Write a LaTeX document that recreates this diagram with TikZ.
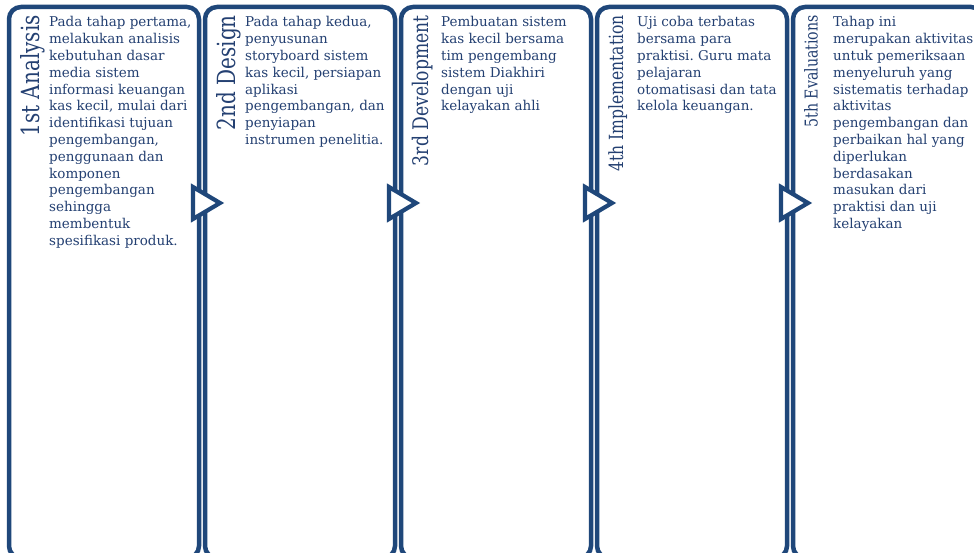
\documentclass[tikz,border=0pt]{standalone}
\usepackage{fontspec}
\setmainfont{DejaVu Serif}
\newfontfamily\titlefont[FakeStretch=0.8]{DejaVu Serif}
\usetikzlibrary{positioning, calc}
\definecolor{phaseblue}{RGB}{31,71,122}
\definecolor{textblue}{RGB}{36,64,114}
\frenchspacing

\begin{document}
\begin{tikzpicture}[x=1pt, y=-1pt,
  phasebox/.style={draw=phaseblue, line width=4.5pt, fill=white, rounded corners=12pt,
    minimum width=190pt, minimum height=551pt, anchor=north west, inner sep=0pt, outer sep=0pt},
  phasetitle/.style={rotate=90, anchor=north east, inner sep=0pt, text=textblue},
  phasetext/.style={anchor=north west, inner sep=0pt, align=left, text=textblue,
    font=\fontsize{13.5}{16.8}\selectfont},
  nextarrow/.style={draw=phaseblue, line width=4.2pt, fill=white, line join=miter}]
  \useasboundingbox (0,0) rectangle (974,553);
  \clip (0,0) rectangle (974,553);
  % 5 phase boxes
  \foreach \i/\x in {1/9, 2/205, 3/401, 4/597, 5/793}
    \node[phasebox] (box\i) at (\x,7) {};
  % arrows from one phase to the next
  \foreach \i in {1,...,4}
    \draw[nextarrow] ([shift={(-6,180)}]box\i.north east) -- ([shift={(-6,212)}]box\i.north east)
      -- ([shift={(21,196)}]box\i.north east) -- cycle;
  % rotated phase titles
  \foreach \i/\s/\t in {1/25/1st Analysis, 2/25/2nd Design, 3/21.5/3rd Development,
      4/19.5/4th Implementation, 5/17.7/5th Evaluations}
    \node[phasetitle, font=\titlefont\fontsize{\s}{\s}\selectfont] (title\i)
      at ([shift={(11,8)}]box\i.north west) {\t};
  % phase descriptions
  \node[phasetext] (text1) at ([shift={(40,9.5)}]box1.north west)
    {Pada tahap pertama,\\ melakukan analisis\\ kebutuhan dasar\\ media sistem\\
     informasi keuangan\\ kas kecil, mulai dari\\ identifikasi tujuan\\ pengembangan,\\
     penggunaan dan\\ komponen\\ pengembangan\\ sehingga\\ membentuk\\ spesifikasi produk.};
  \node[phasetext] (text2) at ([shift={(40,9.5)}]box2.north west)
    {Pada tahap kedua,\\ penyusunan\\ storyboard sistem\\ kas kecil, persiapan\\
     aplikasi\\ pengembangan, dan\\ penyiapan\\ instrumen penelitia.};
  \node[phasetext] (text3) at ([shift={(40,9.5)}]box3.north west)
    {Pembuatan sistem\\ kas kecil bersama\\ tim pengembang\\ sistem Diakhiri\\
     dengan uji\\ kelayakan ahli};
  \node[phasetext] (text4) at ([shift={(40,9.5)}]box4.north west)
    {Uji coba terbatas\\ bersama para\\ praktisi. Guru mata\\ pelajaran\\
     otomatisasi dan tata\\ kelola keuangan.};
  \node[phasetext] (text5) at ([shift={(40,9.5)}]box5.north west)
    {Tahap ini\\ merupakan aktivitas\\ untuk pemeriksaan\\ menyeluruh yang\\
     sistematis terhadap\\ aktivitas\\ pengembangan dan\\ perbaikan hal yang\\
     diperlukan\\ berdasakan\\ masukan dari\\ praktisi dan uji\\ kelayakan};
\end{tikzpicture}
\end{document}
